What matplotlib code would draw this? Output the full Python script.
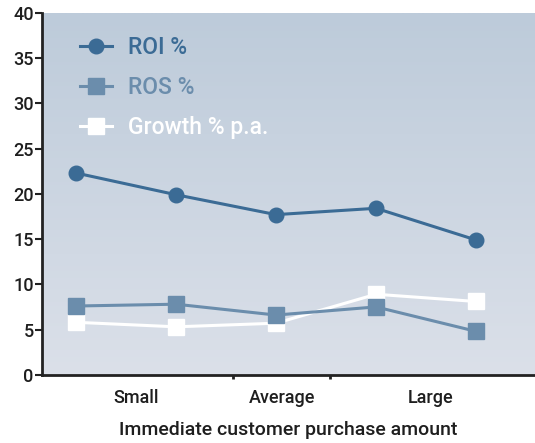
import numpy as np
import matplotlib
matplotlib.use("Agg")
import matplotlib.pyplot as plt
from matplotlib.colors import LinearSegmentedColormap

plt.rcParams['font.family'] = ['Roboto', 'DejaVu Sans']
plt.rcParams['font.weight'] = 'medium'
plt.rcParams['axes.labelweight'] = 'medium'

# five purchase-size groups, labelled in three bands on the x axis
groups = [0, 1, 2, 3, 4]
roi = [22.3, 19.9, 17.7, 18.4, 14.9]
ros = [7.6, 7.8, 6.6, 7.5, 4.8]
growth = [5.8, 5.3, 5.7, 8.9, 8.1]

band_edges = [1.57, 2.54]
band_centres = [0.6, 2.06, 3.55]
band_labels = ["Small", "Average", "Large"]

dark_blue = "#3b6b95"
mid_blue = "#6b8dac"
ink = "#1e1e1e"

fig = plt.figure(figsize=(5.35, 4.43), dpi=100)
ax = fig.add_axes([0.0785, 0.154, 0.9215, 0.817])

# soft vertical gradient behind the lines
bg = LinearSegmentedColormap.from_list("bg", ["#dbe0e9", "#bdcbda"])
grad = np.linspace(0, 1, 256).reshape(-1, 1)
ax.imshow(grad, cmap=bg, origin="lower", aspect="auto",
          extent=[0, 1, 0, 1], transform=ax.transAxes, zorder=0)

ax.plot(groups, growth, color="white", lw=2.2, marker="s", ms=11.5,
        mec="white", mfc="white", label="Growth % p.a.", zorder=2)
ax.plot(groups, ros, color=mid_blue, lw=2.2, marker="s", ms=11.5,
        mec=mid_blue, mfc=mid_blue, label="ROS %", zorder=3)
ax.plot(groups, roi, color=dark_blue, lw=2.2, marker="o", ms=10.5,
        mec=dark_blue, mfc=dark_blue, label="ROI %", zorder=4)

ax.set_xlim(-0.34, 4.59)
ax.set_ylim(0, 40)
ax.set_yticks(range(0, 41, 5))
ax.set_xticks(band_edges)
ax.set_xticklabels([])
ax.set_xticks(band_centres, minor=True)
ax.set_xticklabels(band_labels, minor=True, fontsize=13, color=ink)
ax.tick_params(axis="x", which="minor", length=0, pad=10)
ax.tick_params(axis="x", which="major", length=3, width=2, color="#222222")
ax.tick_params(axis="y", length=5, width=1.5, color="#222222",
               labelsize=13, labelcolor=ink, pad=1)

for s in ["top", "right"]:
    ax.spines[s].set_visible(False)
for s in ["left", "bottom"]:
    ax.spines[s].set_linewidth(2)
    ax.spines[s].set_color("#222222")

ax.set_xlabel("Immediate customer purchase amount", fontsize=14,
              color=ink, labelpad=10)

handles, labels = ax.get_legend_handles_labels()
leg = ax.legend(handles[::-1], labels[::-1], loc="upper left",
                bbox_to_anchor=(0.077, 0.937), frameon=False, fontsize=16.5,
                borderpad=0, borderaxespad=0, handlelength=1.4,
                labelspacing=0.75, handletextpad=0.7)
for txt, col in zip(leg.get_texts(), [dark_blue, mid_blue, "white"]):
    txt.set_color(col)

fig.savefig("out.png", dpi=100)
